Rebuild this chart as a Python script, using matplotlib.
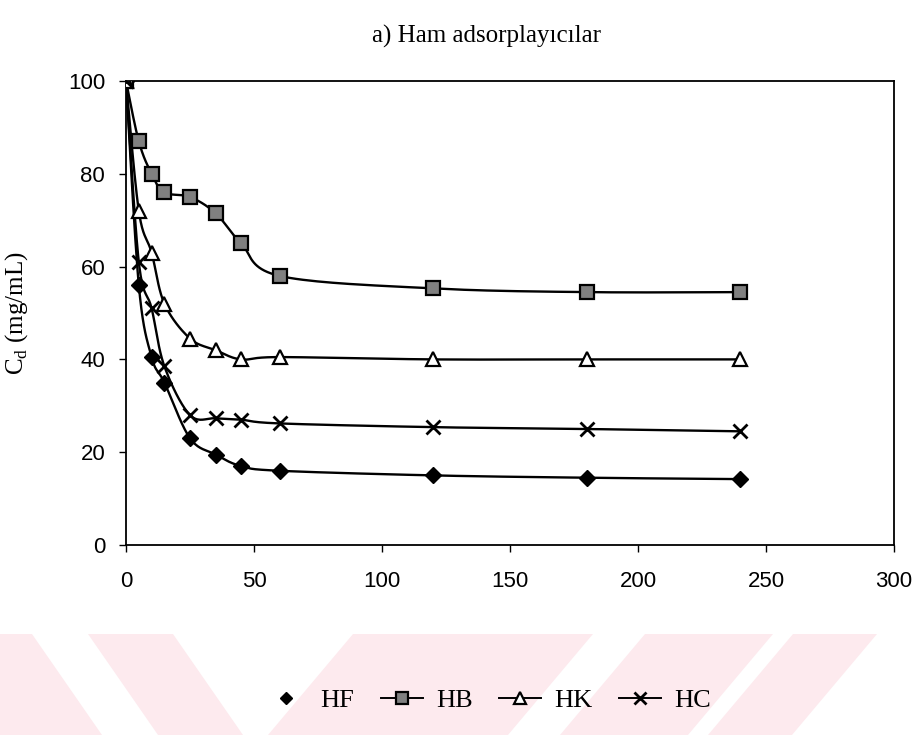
"""Ham adsorplayicilar - Cd vs t"""
import numpy as np
import matplotlib
matplotlib.use('Agg')
import matplotlib.pyplot as plt
from matplotlib.lines import Line2D
from matplotlib.patches import Polygon

t = [0, 5, 10, 15, 25, 35, 45, 60, 120, 180, 240]
HF = [100, 56, 40.5, 35, 23, 19.5, 17, 16, 15, 14.5, 14.2]
HB = [100, 87, 80, 76, 75, 71.5, 65, 58, 55.3, 54.5, 54.5]
HK = [100, 72, 63, 52, 44.5, 42, 40, 40.5, 40, 40, 40]
HC = [100, 61, 51, 38.5, 28, 27.3, 27, 26.2, 25.4, 25, 24.5]
names = ['HF', 'HB', 'HK', 'HC']
xticks = [0, 50, 100, 150, 200, 250, 300]
yticks = [0, 20, 40, 60, 80, 100]

serif = 'Liberation Serif'
sans = 'Liberation Sans'


def smooth(x, y, n=20):
    # catmull-rom curve through the points, like Excel's smoothed line
    P = np.column_stack([x, y]).astype(float)
    P = np.vstack([P[0], P, P[-1]])
    out = []
    s = np.linspace(0, 1, n, endpoint=False)[:, None]
    for i in range(1, len(P) - 2):
        p0, p1, p2, p3 = P[i-1], P[i], P[i+1], P[i+2]
        c = 0.5*((2*p1) + (-p0 + p2)*s + (2*p0 - 5*p1 + 4*p2 - p3)*s**2
                 + (-p0 + 3*p1 - 3*p2 + p3)*s**3)
        out.append(c)
    out.append(P[-2][None, :])
    out = np.vstack(out)
    return out[:, 0], out[:, 1]


fig = plt.figure(figsize=(9.23, 7.35), dpi=100)

# pink scan watermark stripes at the bottom
W, H = 923, 735
stripes = [(-80, 32, 70), (88, 173, 70), (353, 593, -85), (645, 773, -85), (793, 877, -85)]
for x0, x1, sh in stripes:
    pts = [(x0, 634), (x1, 634), (x1 + sh, 735), (x0 + sh, 735)]
    pts = [(px/W, 1 - py/H) for px, py in pts]
    fig.patches.append(Polygon(pts, closed=True, transform=fig.transFigure,
                               facecolor='#fdeaee', edgecolor='none', zorder=0))

ax = fig.add_axes([126/W, 1 - 545/H, (894-126)/W, (545-81)/H])

styles = {
    'HF': dict(marker='D', ms=8, mfc='black', mec='black'),
    'HB': dict(marker='s', ms=10, mfc='0.5', mec='black', mew=1.6),
    'HK': dict(marker='^', ms=10, mfc='white', mec='black', mew=1.6),
    'HC': dict(marker='x', ms=10, mec='black', mew=2),
}
series = {'HF': HF, 'HB': HB, 'HK': HK, 'HC': HC}

for name in names:
    y = series[name]
    xs, ys = smooth(t, y)
    ax.plot(xs, ys, color='black', lw=1.7, zorder=2)
    ax.plot(t, y, ls='none', zorder=3, **styles[name])

ax.set_xlim(0, 300)
ax.set_ylim(0, 100)
ax.set_xticks(xticks)
ax.set_yticks(yticks)
ax.tick_params(direction='out', length=5, width=1, color='black')
ax.tick_params(axis='x', pad=14)
ax.tick_params(axis='y', pad=10)
for lab in ax.get_xticklabels() + ax.get_yticklabels():
    lab.set_fontfamily(sans)
    lab.set_fontsize(16)
for sp in ax.spines.values():
    sp.set_linewidth(1.3)
    sp.set_color('black')

ax.set_xlabel('t (dak)', fontfamily=serif, fontsize=19)
ax.xaxis.set_label_coords(0.48, -0.2)
ax.set_ylabel('C$_\\mathregular{d}$ (mg/mL)', fontfamily=serif, fontsize=18)
ax.yaxis.set_label_coords(-0.125, 0.5)
ax.set_title('a) Ham adsorplayıcılar', fontfamily=serif, fontsize=18, x=0.47, y=1.065)

handles = [Line2D([], [], color='black', lw=1.4, ls='none' if n == 'HF' else '-',
                  **{k: v for k, v in styles[n].items()}) for n in names]
fig.legend(handles, names, loc='center', bbox_to_anchor=(488/W, 1 - 700/H), ncol=4,
           frameon=False, handlelength=1.6, handletextpad=0.5, columnspacing=1.0,
           prop={'family': serif, 'size': 19}, markerscale=0.8)

fig.savefig('out.png', dpi=100)
